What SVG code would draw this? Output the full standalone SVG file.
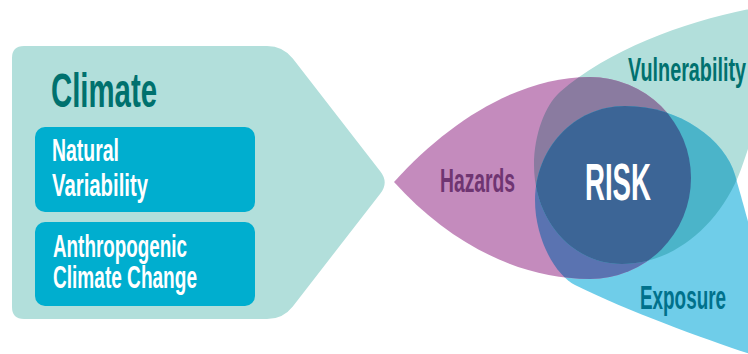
<svg xmlns="http://www.w3.org/2000/svg" xmlns:xlink="http://www.w3.org/1999/xlink" width="748" height="354" viewBox="0 0 748 354">
<style>
  .t { font-family: "Liberation Sans", Arial, sans-serif; font-weight: bold; }
  .title { fill: #00716e; font-size: 48px; }
  .box { fill: #00aecf; }
  .boxt { fill: #ffffff; font-size: 31px; }
  .lbl { font-size: 34px; }
</style>
<defs>
  <path id="pH" d="M394,182 C450,120 520,77 590,77 A101,101 0 0 1 590,279 C520,279 450,244 394,182 Z"/>
  <path id="pV" d="M795,2 C720,10 620,40 560,92 C545,105 534,135 534,165 C534,220 572,264 622,264 C670,264 715,230 738,177 C748,154 775,60 795,2 Z"/>
  <path id="pE" d="M785,365 C760,358 650,322 575,285 C556,275.5 535,240 535,200 C535,150 573,106 625,106 C680,106 725,140 735,175 C745,210 770,300 785,365 Z"/>
  <clipPath id="cH"><use xlink:href="#pH" href="#pH"/></clipPath>
  <clipPath id="cV"><use xlink:href="#pV" href="#pV"/></clipPath>
  <clipPath id="cE"><use xlink:href="#pE" href="#pE"/></clipPath>
</defs>

<g id="climate">
  <path d="M24,46 H267 Q283,46 292.8,58.6 L380.4,171.5 Q389,182.5 380.4,193.5 L292.8,306.4 Q283,319 267,319 H24 Q12,319 12,307 V58 Q12,46 24,46 Z" fill="#b2dfdb"/>
  <text class="t title" x="51" y="107" textLength="106" lengthAdjust="spacingAndGlyphs">Climate</text>
</g>
<g id="natural-variability">
  <rect class="box" x="35" y="127" width="220" height="85" rx="10"/>
  <text class="t boxt" x="52" y="161" textLength="67" lengthAdjust="spacingAndGlyphs">Natural</text>
  <text class="t boxt" x="52" y="196" textLength="96" lengthAdjust="spacingAndGlyphs">Variability</text>
</g>
<g id="anthropogenic-climate-change">
  <rect class="box" x="35" y="222" width="220" height="84" rx="10"/>
  <text class="t boxt" x="53" y="257" textLength="134" lengthAdjust="spacingAndGlyphs">Anthropogenic</text>
  <text class="t boxt" x="53" y="288" textLength="144" lengthAdjust="spacingAndGlyphs">Climate Change</text>
</g>

<g id="vulnerability">
  <use xlink:href="#pV" href="#pV" fill="#b2dfdb"/>
  <text class="t lbl" x="628" y="81" fill="#00716f" textLength="118" lengthAdjust="spacingAndGlyphs">Vulnerability</text>
</g>
<g id="exposure">
  <use xlink:href="#pE" href="#pE" fill="#6fcde9"/>
  <text class="t lbl" x="640" y="309" fill="#00718c" textLength="86" lengthAdjust="spacingAndGlyphs">Exposure</text>
</g>
<g id="hazards">
  <use xlink:href="#pH" href="#pH" fill="#c48bbd"/>
  <text class="t lbl" x="440" y="192" fill="#6f3572" textLength="75" lengthAdjust="spacingAndGlyphs">Hazards</text>
</g>
<g id="overlaps">
  <use xlink:href="#pH" href="#pH" fill="#8a7ba0" clip-path="url(#cV)"/>
  <use xlink:href="#pH" href="#pH" fill="#5a73b1" clip-path="url(#cE)"/>
  <use xlink:href="#pV" href="#pV" fill="#4bb4c9" clip-path="url(#cE)"/>
</g>
<g id="risk">
  <g clip-path="url(#cE)">
    <use xlink:href="#pH" href="#pH" fill="#3c6596" clip-path="url(#cV)"/>
  </g>
  <text class="t" x="585" y="200" fill="#ffffff" font-size="51" textLength="66" lengthAdjust="spacingAndGlyphs">RISK</text>
</g>
<g id="connectors"/>
</svg>
